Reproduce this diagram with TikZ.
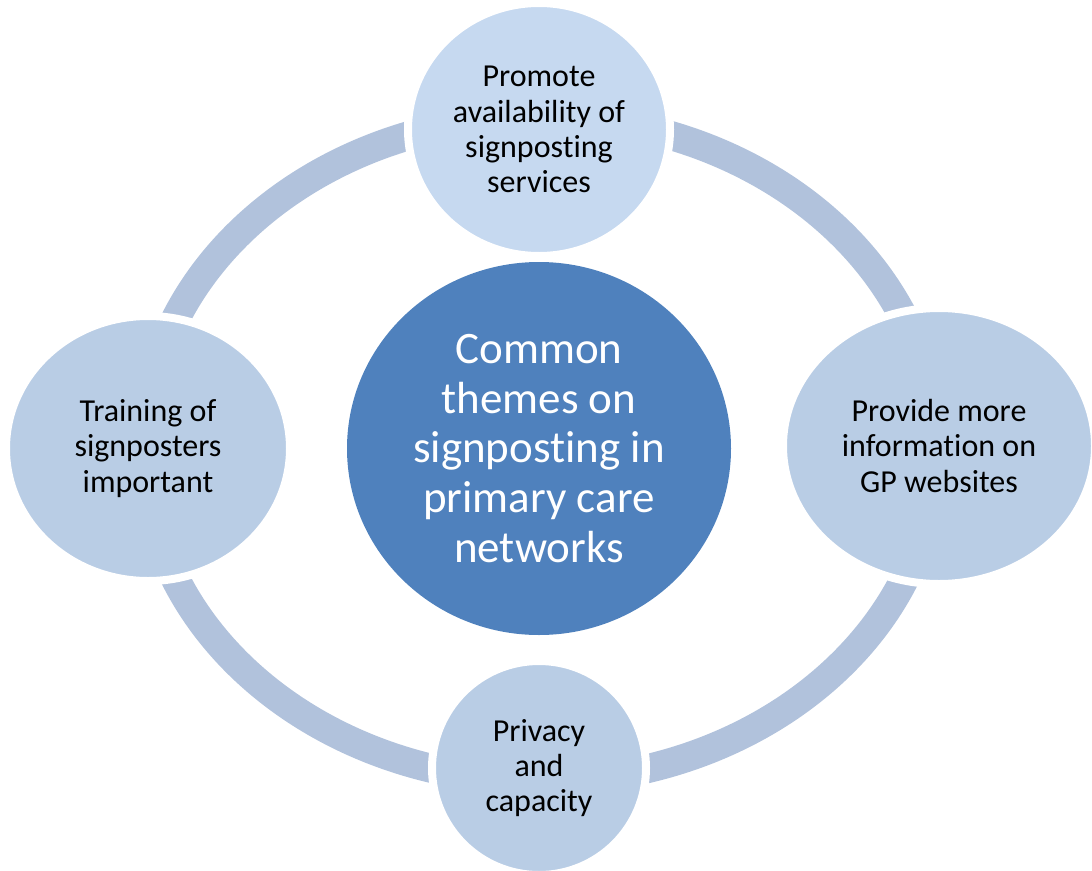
\documentclass[tikz,border=0pt]{standalone}
\usepackage{fontspec}
\setmainfont{Carlito}[Ligatures={NoCommon}]
\usetikzlibrary{shapes.geometric}
\definecolor{hub}{HTML}{4F81BD}
\definecolor{ringblue}{HTML}{B1C2DC}
\definecolor{petal}{HTML}{B9CDE5}
\definecolor{petaltop}{HTML}{C6D9F0}
\begin{document}
\begin{tikzpicture}[x=1pt,y=-1pt,
  theme/.style={ellipse, fill=petal, draw=white, line width=8pt, inner sep=0pt,
    align=center, text=black, font=\fontsize{32}{35.3}\selectfont},
  hubnode/.style={ellipse, fill=hub, draw=none, inner sep=0pt,
    align=center, text=white, font=\fontsize{45}{49.6}\selectfont},
  ringline/.style={draw=ringblue, line width=29pt}]
\useasboundingbox (0,0) rectangle (1092,870);
% the cycle ring behind the theme bubbles
\coordinate (ringc) at (540,449);
\draw[ringline] (ringc) ellipse [x radius=396, y radius=332];
% theme bubbles; the white rim cuts the ring
\node[theme, fill=petaltop, minimum width=262pt, minimum height=253pt] (promote) at (539,129.5)
  {Promote\\availability of\\signposting\\services};
\node[theme, minimum width=312pt, minimum height=276pt] (websites) at (939,446)
  {Provide more\\information on\\GP websites};
\node[theme, minimum width=214pt, minimum height=214pt] (privacy) at (539,768)
  {Privacy\\and\\capacity};
\node[theme, minimum width=284pt, minimum height=265pt] (training) at (148,448.5)
  {Training of\\signposters\\important};
% central topic
\node[hubnode, minimum width=384pt, minimum height=373pt] (hub) at (539,448.5)
  {Common\\themes on\\signposting in\\primary care\\networks};
\end{tikzpicture}
\end{document}
